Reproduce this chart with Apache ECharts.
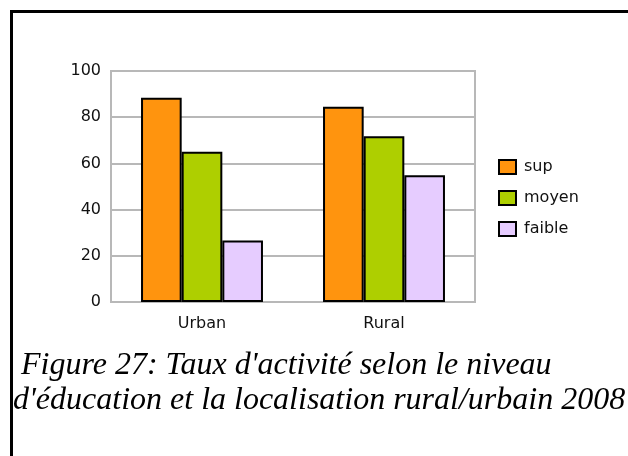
<!DOCTYPE html>
<html>
<head>
<meta charset="utf-8">
<script src="https://cdn.jsdelivr.net/npm/echarts@6/dist/echarts.min.js"></script>
<style>
  html, body { margin: 0; padding: 0; background: #fff; }
  #myChart { width: 628px; height: 456px; }
</style>
</head>
<body>
<div id="myChart"></div>
<script>
var categories = ['Urban', 'Rural'];
var supValues = [88.4, 84.5];
var moyenValues = [65, 71.8];
var faibleValues = [26.6, 54.9];
var yTicks = [0, 20, 40, 60, 80, 100];
var caption = " Figure 27: Taux d'activité selon le niveau\nd'éducation et la localisation rural/urbain 2008";

var myChart = echarts.init(document.getElementById('myChart'));

var barBorder = {borderColor: '#000', borderWidth: 2};
var labelFont = {color: '#111', fontFamily: 'DejaVu Sans', fontSize: 16};

myChart.setOption({
    animation: false,
    backgroundColor: '#fff',
    title: {
        text: caption,
        left: 13, top: 348, padding: 0,
        textStyle: {fontFamily: 'Liberation Serif', fontStyle: 'italic', fontWeight: 'normal', fontSize: 32, lineHeight: 35, color: '#000'}
    },
    graphic: [{
        type: 'polyline',
        shape: {points: [[11.5, 456], [11.5, 11.5], [628, 11.5]]},
        style: {stroke: '#000', lineWidth: 3, fill: null}
    }],
    legend: {
        orient: 'vertical', left: 498, top: 159, padding: 0,
        itemWidth: 17, itemHeight: 14, itemGap: 15,
        icon: 'rect',
        textStyle: {color: '#111', fontFamily: 'DejaVu Sans', fontSize: 16, padding: [0, 0, 0, 3]},
        data: ['sup', 'moyen', 'faible']
    },
    grid: {left: 111, top: 71, width: 364, height: 231, show: true, borderColor: '#b8b8b8', borderWidth: 2, containLabel: false},
    xAxis: {
        type: 'category', data: categories,
        axisLine: {show: false}, axisTick: {show: false},
        axisLabel: Object.assign({margin: 14}, labelFont)
    },
    yAxis: {
        type: 'value', min: yTicks[0], max: yTicks[yTicks.length - 1], interval: yTicks[1] - yTicks[0],
        axisLine: {show: false}, axisTick: {show: false},
        splitLine: {show: true, lineStyle: {color: '#b8b8b8', width: 2}},
        axisLabel: Object.assign({margin: 10}, labelFont)
    },
    series: [
        {name: 'sup', type: 'bar', data: supValues, barGap: 0, barCategoryGap: '33%', itemStyle: Object.assign({color: '#ff940e'}, barBorder)},
        {name: 'moyen', type: 'bar', data: moyenValues, itemStyle: Object.assign({color: '#aecf00'}, barBorder)},
        {name: 'faible', type: 'bar', data: faibleValues, itemStyle: Object.assign({color: '#e6ccff'}, barBorder)}
    ]
});
</script>
</body>
</html>
